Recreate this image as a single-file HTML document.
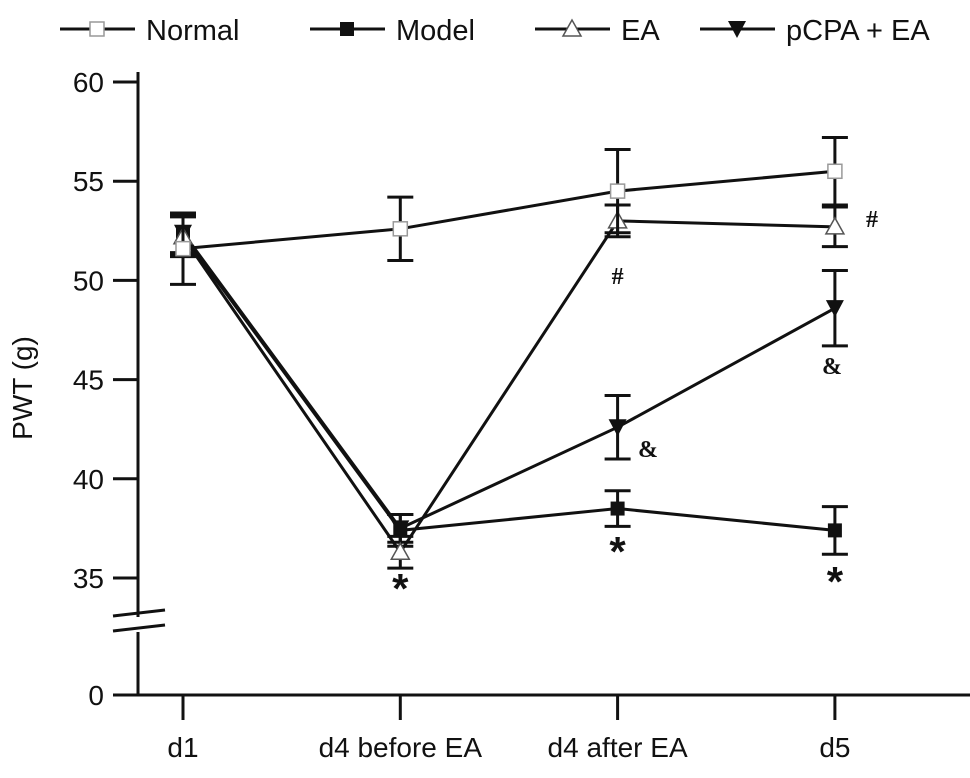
<!DOCTYPE html>
<html><head><meta charset="utf-8"><style>
body{margin:0;background:#fff;}
svg text{font-family:"Liberation Sans",sans-serif;fill:#111;}
</style></head><body>
<svg id="chart" width="970" height="773" xmlns="http://www.w3.org/2000/svg"></svg>
<script>
const categories=["d1","d4 before EA","d4 after EA","d5"];
const yTicks=[35,40,45,50,55,60];
const normalVals=[51.6,52.6,54.5,55.5];
const normalErr=[1.8,1.6,2.1,1.7];
const modelVals=[52.3,37.4,38.5,37.4];
const modelErr=[1.0,0.8,0.9,1.2];
const eaVals=[52.2,36.3,53.0,52.7];
const eaErr=[1.0,0.8,0.8,1.0];
const pcpaVals=[52.4,37.5,42.6,48.6];
const pcpaErr=[1.0,0.7,1.6,1.9];
const NS="http://www.w3.org/2000/svg";
const svg=document.getElementById('chart');
function xS(i){return 183+i*217.3;}
function yS(v){return 578-(v-35)*19.84;}
function mk(t,a,p){const e=document.createElementNS(NS,t);for(const k in a)e.setAttribute(k,a[k]);(p||svg).appendChild(e);return e;}
let ax=mk('g',{});


mk('line',{x1:138,y1:72,x2:138,y2:617,stroke:'#111','stroke-width':3},ax);
mk('line',{x1:138,y1:632,x2:138,y2:696,stroke:'#111','stroke-width':3},ax);
mk('line',{x1:113,y1:616,x2:165,y2:610,stroke:'#111','stroke-width':3},ax);
mk('line',{x1:113,y1:631,x2:165,y2:625,stroke:'#111','stroke-width':3},ax);
mk('line',{x1:113,y1:695,x2:970,y2:695,stroke:'#111','stroke-width':3},ax);
yTicks.forEach(v=>{
 mk('line',{x1:113,y1:yS(v),x2:138,y2:yS(v),stroke:'#111','stroke-width':3},ax);
 let t=mk('text',{x:104,y:yS(v)+10,'text-anchor':'end','font-size':28},ax);t.textContent=v;
 
 
});
let z=mk('text',{x:104,y:705,'text-anchor':'end','font-size':28},ax);z.textContent='0';
categories.forEach((c,i)=>{
 mk('line',{x1:xS(i),y1:695,x2:xS(i),y2:720,stroke:'#111','stroke-width':3},ax);
 let t=mk('text',{x:xS(i),y:757,'text-anchor':'middle','font-size':28},ax);t.textContent=c;
 
 
});
let yt=mk('text',{x:32,y:388,'text-anchor':'middle','font-size':28,transform:'rotate(-90 32 388)'});
yt.textContent='PWT (g)';


function marker(type,x,y,g){
 if(type==='sq-open')mk('rect',{x:x-7,y:y-7,width:14,height:14,fill:'#fff',stroke:'#999','stroke-width':1.5},g);
 if(type==='sq-fill')mk('rect',{x:x-7,y:y-7,width:14,height:14,fill:'#111'},g);
 if(type==='tri-open')mk('polygon',{points:`${x},${y-9} ${x-9},${y+7} ${x+9},${y+7}`,fill:'#fff',stroke:'#555','stroke-width':1.5},g);
 if(type==='tri-down')mk('polygon',{points:`${x-9},${y-8} ${x+9},${y-8} ${x},${y+9}`,fill:'#111'},g);
}
function series(name,vals,errs,type){
 let g=mk('g',{});
 
 
 vals.forEach((v,i)=>{
  const x=xS(i),t=yS(v+errs[i]),b=yS(v-errs[i]);
  mk('line',{x1:x,y1:t,x2:x,y2:b,stroke:'#111','stroke-width':3},g);
  mk('line',{x1:x-13,y1:t,x2:x+13,y2:t,stroke:'#111','stroke-width':3},g);
  mk('line',{x1:x-13,y1:b,x2:x+13,y2:b,stroke:'#111','stroke-width':3},g);
 });
 mk('polyline',{points:vals.map((v,i)=>xS(i)+','+yS(v)).join(' '),fill:'none',stroke:'#111','stroke-width':3},g);
 vals.forEach((v,i)=>marker(type,xS(i),yS(v),g));
}
series('model',modelVals,modelErr,'sq-fill');
series('pcpa-ea',pcpaVals,pcpaErr,'tri-down');
series('ea',eaVals,eaErr,'tri-open');
series('normal',normalVals,normalErr,'sq-open');
[[xS(1),603,'*'],[xS(2),566,'*'],[xS(3),596,'*']].forEach(a=>{let t=mk('text',{x:a[0],y:a[1],'text-anchor':'middle','font-size':42,'font-weight':'bold'});t.textContent=a[2];});
[[xS(2),284,'#'],[872,227,'#'],[648,457,'&'],[832,374,'&']].forEach(a=>{let t=mk('text',{x:a[0],y:a[1],'text-anchor':'middle','font-size':24,'font-weight':'bold',style:'font-family:"Liberation Serif",serif'});t.textContent=a[2];});
const legNames=['Normal','Model','EA','pCPA + EA'];
const legTypes=['sq-open','sq-fill','tri-open','tri-down'];
const legX=[60,310,535,700];
legNames.forEach((n,i)=>{
 let g=mk('g',{});
 
 
 mk('line',{x1:legX[i],y1:29,x2:legX[i]+75,y2:29,stroke:'#111','stroke-width':3},g);
 marker(legTypes[i],legX[i]+37,29,g);
 let t=mk('text',{x:legX[i]+86,y:40,'font-size':29},g);t.textContent=n;
});
</script>
</body></html>
